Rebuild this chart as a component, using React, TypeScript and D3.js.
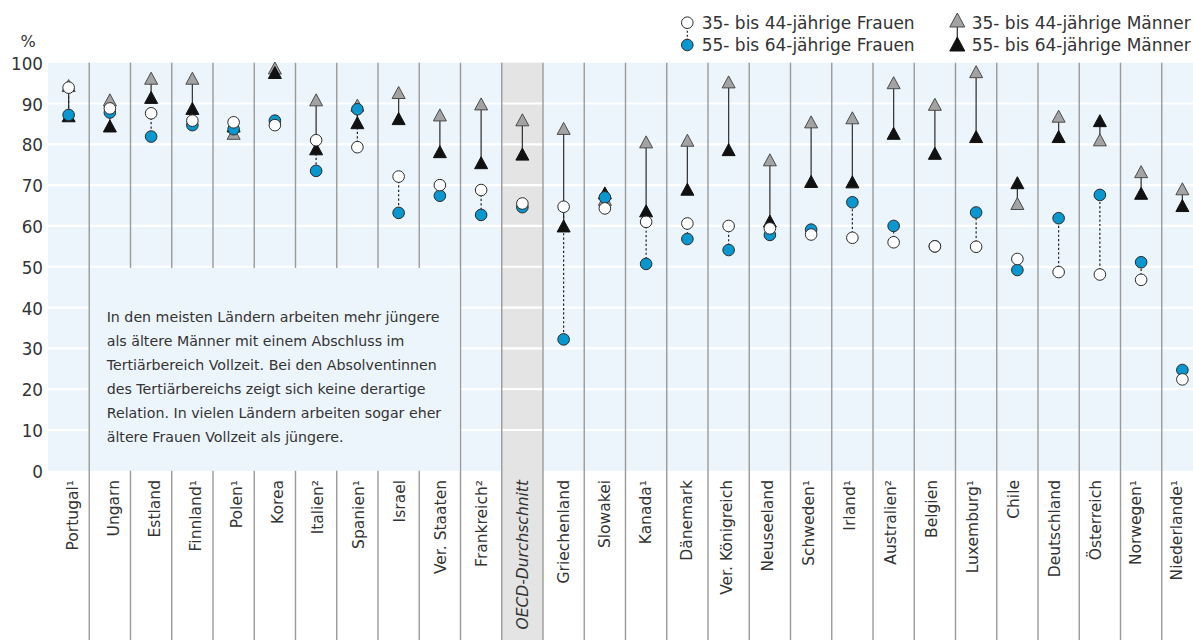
import React from 'react';
import * as d3 from 'd3';

const countries = [
  'Portugal¹', 'Ungarn', 'Estland', 'Finnland¹', 'Polen¹', 'Korea', 'Italien²', 'Spanien¹',
  'Israel', 'Ver. Staaten', 'Frankreich²', 'OECD-Durchschnitt', 'Griechenland', 'Slowakei',
  'Kanada¹', 'Dänemark', 'Ver. Königreich', 'Neuseeland', 'Schweden¹', 'Irland¹', 'Australien²',
  'Belgien', 'Luxemburg¹', 'Chile', 'Deutschland', 'Österreich', 'Norwegen¹', 'Niederlande¹',
];

// 35- bis 44-jährige Frauen (white circles)
const women35 = [93.9, 88.8, 87.6, 85.8, 85.4, 84.7, 81.0, 79.3, 72.1, 70.0, 68.8, 65.5, 64.7, 64.3,
  61.0, 60.6, 60.0, 59.4, 57.9, 57.1, 56.0, 55.0, 54.9, 51.9, 48.7, 48.1, 46.8, 22.4];
// 55- bis 64-jährige Frauen (blue circles)
const women55 = [87.2, 87.8, 81.9, 84.7, 83.7, 85.8, 73.5, 88.6, 63.2, 67.4, 62.7, 64.6, 32.2, 67.0,
  50.7, 56.8, 54.1, 57.8, 59.1, 65.8, 60.0, 55.0, 63.3, 49.2, 61.9, 67.6, 51.1, 24.7];
// 35- bis 44-jährige Männer (grey triangles)
const men35 = [94.4, 90.9, 96.2, 96.2, 82.7, 98.7, 90.9, 89.6, 92.7, 87.2, 89.9, 86.0, 83.9, 66.5,
  80.6, 81.0, 95.3, 76.2, 85.5, 86.5, 95.1, 89.8, 97.8, 65.5, 86.9, 81.1, 73.3, 69.1];
// 55- bis 64-jährige Männer (black triangles)
const men55 = [87.0, 84.5, 91.5, 88.8, 84.5, 97.6, 78.9, 85.3, 86.3, 78.2, 75.5, 77.6, 60.0, 68.1,
  63.7, 69.0, 78.7, 61.2, 70.9, 70.8, 82.7, 77.8, 81.9, 70.6, 81.9, 85.8, 68.0, 65.0];

const yTicks = [0, 10, 20, 30, 40, 50, 60, 70, 80, 90, 100];
const gridValues = [10, 20, 30, 40, 50, 60, 70, 80, 90];

const legendWomen = ['35- bis 44-jährige Frauen', '55- bis 64-jährige Frauen'];
const legendMen = ['35- bis 44-jährige Männer', '55- bis 64-jährige Männer'];

const noteLines = [
  'In den meisten Ländern arbeiten mehr jüngere',
  'als ältere Männer mit einem Abschluss im',
  'Tertiärbereich Vollzeit. Bei den Absolventinnen',
  'des Tertiärbereichs zeigt sich keine derartige',
  'Relation. In vielen Ländern arbeiten sogar eher',
  'ältere Frauen Vollzeit als jüngere.',
];
const noteFrom = 'Ungarn';
const noteTo = 'Ver. Staaten';
const highlight = 'OECD-Durchschnitt';

const W = 1193;
const H = 644;
const FONT = '"DejaVu Sans", Verdana, sans-serif';
const TEXT = '#333333';
const BLUE = '#0898cf';
const BG = '#edf5fc';
const GREYCOL = '#e4e4e4';
const SEP = '#9a9a9a';

const PLOT_L = 48;
const PLOT_T = 62.7;
const PLOT_B = 470.8;
const STEP = 41.25;
const SEP_BOTTOM = 640;

const tri = (w: number, h: number) => `M0,${-h / 2}L${w / 2},${h / 2}L${-w / 2},${h / 2}Z`;

export default function App() {
  const x = d3.scaleBand<string>().domain(countries).range([PLOT_L, PLOT_L + countries.length * STEP]);
  const xl = d3.scalePoint<string>().domain(countries).range([78, 1182.3]);
  const y = d3.scaleLinear().domain([0, 100]).range([PLOT_B, PLOT_T]);
  const bw = x.bandwidth();
  const cx = (c: string) => (x(c) as number) + bw / 2;

  const noteX0 = (x(noteFrom) as number);
  const noteX1 = (x(noteTo) as number) + bw;

  return (
    <svg
      width={W}
      height={H}
      style={{ position: 'absolute', left: 0, top: 0, display: 'block', background: '#fff' }}
      fontFamily={FONT}
    >
      {/* plot background */}
      <rect x={PLOT_L} y={PLOT_T} width={W - PLOT_L} height={PLOT_B - PLOT_T} fill={BG} />
      {/* highlighted OECD column */}
      <rect x={x(highlight)} y={PLOT_T} width={bw} height={SEP_BOTTOM - PLOT_T} fill={GREYCOL} />

      {/* horizontal grid */}
      {gridValues.map((v) => (
        <line key={'g' + v} x1={PLOT_L} x2={W} y1={y(v)} y2={y(v)} stroke="#ffffff" strokeWidth={2.2} />
      ))}

      {/* column separators */}
      {countries.slice(0, -1).map((c) => {
        const sx = (x(c) as number) + bw;
        return <line key={'s' + c} x1={sx} x2={sx} y1={PLOT_T} y2={SEP_BOTTOM} stroke={SEP} strokeWidth={1.4} />;
      })}

      {/* note box */}
      <rect x={noteX0 + 0.9} y={y(50) + 1.2} width={noteX1 - noteX0 - 1.8} height={PLOT_B - y(50) - 1.2} fill={BG} />
      {noteLines.map((t, i) => (
        <text key={'n' + i} x={106.7} y={321.7 + i * 24} fontSize={14.2} fill={TEXT}>{t}</text>
      ))}

      {/* y axis labels */}
      <text x={20.5} y={46.7} fontSize={16} fill={TEXT}>%</text>
      {yTicks.map((v) => (
        <text key={'t' + v} x={43} y={y(v) + 7} fontSize={16.8} fill={TEXT} textAnchor="end">{v}</text>
      ))}

      {/* category labels */}
      {countries.map((c) => (
        <text
          key={'l' + c}
          transform={`translate(${xl(c)},480) rotate(-90)`}
          fontSize={15.5}
          fill={TEXT}
          textAnchor="end"
          fontStyle={c === highlight ? 'italic' : 'normal'}
        >
          {c}
        </text>
      ))}

      {/* connecting lines */}
      {countries.map((c, i) => (
        <g key={'c' + c}>
          <line x1={cx(c)} x2={cx(c)} y1={y(men35[i])} y2={y(men55[i])} stroke="#3a3a3a" strokeWidth={1.3} />
          <line x1={cx(c)} x2={cx(c)} y1={y(women35[i])} y2={y(women55[i])} stroke="#222" strokeWidth={1.2} strokeDasharray="2.2 2.2" />
        </g>
      ))}

      {/* markers */}
      {countries.map((c, i) => (
        <path key={'m35' + c} d={tri(13, 12)} transform={`translate(${cx(c)},${y(men35[i])})`} fill="#a3a3a3" stroke="#4a4a4a" strokeWidth={1} />
      ))}
      {countries.map((c, i) => (
        <path key={'m55' + c} d={tri(13, 12)} transform={`translate(${cx(c)},${y(men55[i])})`} fill="#111111" stroke="#111" strokeWidth={1} />
      ))}
      {countries.map((c, i) => (
        <circle key={'w55' + c} cx={cx(c)} cy={y(women55[i])} r={5.8} fill={BLUE} stroke="#2a2a2a" strokeWidth={1} />
      ))}
      {countries.map((c, i) => (
        <circle key={'w35' + c} cx={cx(c)} cy={y(women35[i])} r={5.8} fill="#ffffff" stroke="#2a2a2a" strokeWidth={1} />
      ))}

      {/* legend */}
      <g>
        <line x1={687.3} x2={687.3} y1={22.7} y2={45} stroke="#222" strokeWidth={1.2} strokeDasharray="2 2" />
        <circle cx={687.3} cy={22.7} r={5.8} fill="#fff" stroke="#2a2a2a" strokeWidth={1} />
        <circle cx={687.3} cy={45} r={5.8} fill={BLUE} stroke="#2a2a2a" strokeWidth={1} />
        {legendWomen.map((t, i) => (
          <text key={'lw' + i} x={701.7} y={29 + i * 22} fontSize={17} fill={TEXT}>{t}</text>
        ))}
        <line x1={957.3} x2={957.3} y1={20} y2={44} stroke="#3a3a3a" strokeWidth={1.3} />
        <path d={tri(15, 14)} transform="translate(957.3,20)" fill="#a3a3a3" stroke="#4a4a4a" strokeWidth={1} />
        <path d={tri(15, 14)} transform="translate(957.3,44)" fill="#111" stroke="#111" strokeWidth={1} />
        {legendMen.map((t, i) => (
          <text key={'lm' + i} x={971.7} y={29 + i * 22} fontSize={17} fill={TEXT}>{t}</text>
        ))}
      </g>
    </svg>
  );
}
